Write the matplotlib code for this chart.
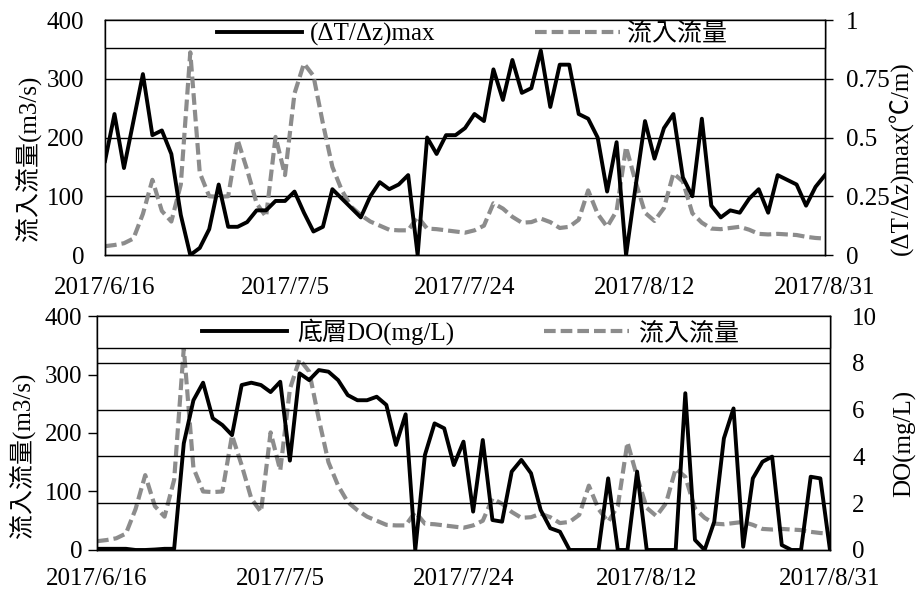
import numpy as np
import pandas as pd
import matplotlib
matplotlib.use("Agg")
import matplotlib.pyplot as plt
from matplotlib.patches import Rectangle

plt.rcParams['font.family'] = ['Liberation Serif', 'Noto Sans CJK TC']
plt.rcParams['font.size'] = 18

# daily series, 2017/6/16 - 2017/8/31
dates = pd.date_range('2017-06-16', '2017-08-31', freq='D')

inflow = [15, 17, 20, 28, 70, 128, 75, 57, 120, 345,
          140, 100, 99, 100, 196, 145, 88, 65, 201, 136,
          275, 326, 305, 224, 150, 110, 82, 68, 57, 50,
          43, 42, 42, 65, 45, 44, 42, 40, 38, 42,
          50, 88, 79, 65, 55, 56, 62, 56, 46, 48,
          60, 110, 70, 48, 75, 184, 125, 72, 58, 80,
          139, 125, 71, 55, 45, 44, 46, 48, 43, 36,
          35, 36, 35, 34, 31, 29, 28]

dtdz_max = [0.40, 0.60, 0.37, 0.57, 0.77, 0.51, 0.53, 0.43, 0.17, 0.00,
            0.03, 0.11, 0.30, 0.12, 0.12, 0.14, 0.19, 0.19, 0.23, 0.23,
            0.27, 0.18, 0.10, 0.12, 0.28, 0.24, 0.20, 0.16, 0.25, 0.31,
            0.28, 0.30, 0.34, 0.00, 0.50, 0.43, 0.51, 0.51, 0.54, 0.60,
            0.57, 0.79, 0.66, 0.83, 0.69, 0.71, 0.87, 0.63, 0.81, 0.81,
            0.60, 0.58, 0.50, 0.27, 0.48, 0.00, 0.29, 0.57, 0.41, 0.54,
            0.60, 0.33, 0.25, 0.58, 0.21, 0.16, 0.19, 0.18, 0.24, 0.28,
            0.18, 0.34, 0.32, 0.30, 0.21, 0.29, 0.34]

bottom_do = [0.05, 0.05, 0.05, 0.05, 0.0, 0.0, 0.02, 0.05, 0.05, 4.56,
             6.4, 7.15, 5.63, 5.34, 4.91, 7.05, 7.15, 7.05, 6.75, 7.19,
             3.82, 7.55, 7.26, 7.69, 7.62, 7.26, 6.62, 6.4, 6.4, 6.55,
             6.2, 4.49, 5.8, 0.0, 4.06, 5.41, 5.2, 3.63, 4.63, 1.64,
             4.7, 1.28, 1.21, 3.35, 3.85, 3.28, 1.71, 0.93, 0.78, 0.0,
             0.0, 0.0, 0.0, 3.06, 0.0, 0.0, 3.35, 0.0, 0.0, 0.0,
             0.0, 6.7, 0.43, 0.0, 1.21, 4.77, 6.05, 0.14, 3.06, 3.77,
             3.99, 0.21, 0.0, 0.0, 3.13, 3.06, 0.0]

tick_dates = pd.to_datetime(['2017-06-16', '2017-07-05', '2017-07-24',
                             '2017-08-12', '2017-08-31'])
tick_labels = ['2017/6/16', '2017/7/5', '2017/7/24', '2017/8/12', '2017/8/31']

flow_ticks = [0, 100, 200, 300, 400]
dtdz_ticks = [0, 0.25, 0.5, 0.75, 1]
dtdz_tick_labels = ['0', '0.25', '0.5', '0.75', '1']
do_ticks = [0, 2, 4, 6, 8, 10]

GRAY = '#8c8c8c'
DASH = (0, (2.8, 1.2))

fig = plt.figure(figsize=(9.22, 5.94), dpi=100)


def style_box(ax):
    for sp in ax.spines.values():
        sp.set_color('black')
        sp.set_linewidth(1.0)


def legend_band(ax, y0):
    ax.add_patch(Rectangle((0, y0), 1, 1 - y0, transform=ax.transAxes,
                           facecolor='white', edgecolor='black', lw=1.0,
                           zorder=4, clip_on=False))


# ---- upper panel: inflow vs (dT/dz)max ----
ax1 = fig.add_axes([0.1139, 0.5707, 0.7809, 0.3956])
ax1r = ax1.twinx()

for y in [100, 200, 300]:
    ax1.axhline(y, color='black', lw=1.0, zorder=1)
l_flow1, = ax1.plot(dates, inflow, color=GRAY, lw=3, linestyle=DASH, zorder=2)
l_dt, = ax1r.plot(dates, dtdz_max, color='black', lw=2.8, zorder=3)

ax1.set_xlim(dates[0], dates[-1])
ax1.set_ylim(0, 400)
ax1r.set_ylim(0, 1)
ax1.set_yticks(flow_ticks)
ax1r.set_yticks(dtdz_ticks)
ax1r.set_yticklabels(dtdz_tick_labels)
ax1.set_xticks(tick_dates)
ax1.set_xticklabels(tick_labels)
ax1.tick_params(axis='y', length=0, pad=15)
ax1.tick_params(axis='x', length=0, pad=16)
ax1r.tick_params(axis='y', length=6, width=1, direction='out', pad=9)
style_box(ax1)
style_box(ax1r)

legend_band(ax1r, 0.88)
leg1 = ax1r.legend([l_dt, l_flow1], ['(ΔT/Δz)max', '流入流量'], ncol=2,
                   loc='center', bbox_to_anchor=(0.51, 0.94), frameon=False,
                   fontsize=18, handlelength=3.4, handletextpad=0.3,
                   columnspacing=4.0, borderaxespad=0, borderpad=0)
leg1.set_zorder(5)

fig.text(0.030, 1 - 158 / 594, '流入流量(m3/s)', rotation=90,
         ha='center', va='center', fontsize=18)
fig.text(0.977, 1 - 158 / 594, '(ΔT/Δz)max(℃/m)', rotation=90,
         ha='center', va='center', fontsize=18)

# ---- lower panel: inflow vs bottom DO ----
ax2 = fig.add_axes([0.1052, 0.0741, 0.7950, 0.3939])
ax2r = ax2.twinx()

for y in [2, 4, 6, 8]:
    ax2r.axhline(y, color='black', lw=1.0, zorder=1)
l_flow2, = ax2.plot(dates, inflow, color=GRAY, lw=3, linestyle=DASH, zorder=2)
l_do, = ax2r.plot(dates, bottom_do, color='black', lw=2.8, zorder=3)

ax2.set_xlim(dates[0], dates[-1])
ax2.set_ylim(0, 400)
ax2r.set_ylim(0, 10)
ax2.set_yticks(flow_ticks)
ax2r.set_yticks(do_ticks)
ax2.set_xticks(tick_dates)
ax2.set_xticklabels(tick_labels)
ax2.tick_params(axis='y', length=6.5, width=1, direction='out', pad=4)
ax2.tick_params(axis='x', length=0, pad=13)
ax2r.tick_params(axis='y', length=0, pad=16)
style_box(ax2)
style_box(ax2r)

legend_band(ax2r, 0.863)
leg2 = ax2r.legend([l_do, l_flow2], ['底層DO(mg/L)', '流入流量'], ncol=2,
                   loc='center', bbox_to_anchor=(0.51, 0.932), frameon=False,
                   fontsize=18, handlelength=3.4, handletextpad=0.4,
                   columnspacing=3.6, borderaxespad=0, borderpad=0)
leg2.set_zorder(5)

fig.text(0.024, 1 - 455 / 594, '流入流量(m3/s)', rotation=90,
         ha='center', va='center', fontsize=18)
fig.text(0.981, 1 - 443 / 594, 'DO(mg/L)', rotation=90,
         ha='center', va='center', fontsize=18)

fig.savefig('out.png', dpi=100)
